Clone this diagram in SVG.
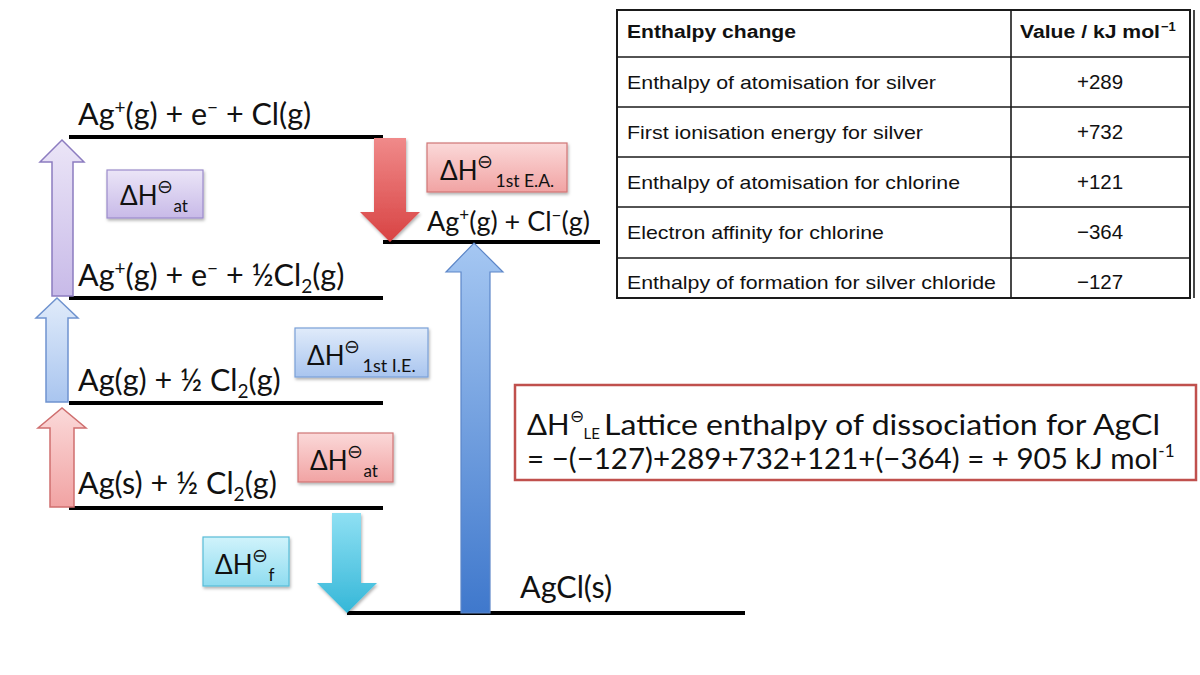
<svg xmlns="http://www.w3.org/2000/svg" width="1200" height="675" viewBox="0 0 1200 675">
<style>
.lvl{stroke:#000;stroke-width:4;fill:none}
.lt{font-family:Lato,"Open Sans",sans-serif;font-size:30.5px;fill:#111}
.sup{font-size:19px}
.bt{font-family:Lato,"Open Sans",sans-serif;font-size:26px;fill:#111}
.rt{font-family:Lato,"Open Sans",sans-serif;font-size:29.5px;fill:#111}
.tb{font-family:"Liberation Sans",Arial,sans-serif;font-size:19px;fill:#111}
.tv{font-family:"Liberation Sans",Arial,sans-serif;font-size:20.5px;fill:#111}
.th{font-family:"Liberation Sans",Arial,sans-serif;font-size:18px;font-weight:bold;fill:#111}
.grid{stroke:#1a1a1a;stroke-width:1.6;fill:none}
</style>
<defs>
<linearGradient id="gLav" x1="0" y1="0" x2="0" y2="1"><stop offset="0" stop-color="#ebe5f7"/><stop offset="1" stop-color="#c8bae8"/></linearGradient>
<linearGradient id="gPink" x1="0" y1="0" x2="0" y2="1"><stop offset="0" stop-color="#fbd9d9"/><stop offset="1" stop-color="#f1a3a3"/></linearGradient>
<linearGradient id="gBlue" x1="0" y1="0" x2="0" y2="1"><stop offset="0" stop-color="#e0ebfa"/><stop offset="1" stop-color="#a9c5ef"/></linearGradient>
<linearGradient id="gCyan" x1="0" y1="0" x2="0" y2="1"><stop offset="0" stop-color="#d0f3fb"/><stop offset="1" stop-color="#8fdcf0"/></linearGradient>
<linearGradient id="gRed" x1="0" y1="0" x2="0" y2="1"><stop offset="0" stop-color="#f08a8a"/><stop offset="1" stop-color="#d84343"/></linearGradient>
<linearGradient id="gCyanA" x1="0" y1="0" x2="0" y2="1"><stop offset="0" stop-color="#8fe0f3"/><stop offset="1" stop-color="#35b7d8"/></linearGradient>
<linearGradient id="gBigBlue" x1="0" y1="0" x2="0" y2="1"><stop offset="0" stop-color="#a5c7f2"/><stop offset="1" stop-color="#3f78cc"/></linearGradient>
<filter id="sh" x="-10%" y="-10%" width="130%" height="140%"><feDropShadow dx="1" dy="2" stdDeviation="1.5" flood-color="#000" flood-opacity="0.3"/></filter>
</defs>

<g id="levels">
<line class="lvl" x1="69" y1="137" x2="383" y2="137"/>
<line class="lvl" x1="69" y1="298" x2="383" y2="298"/>
<line class="lvl" x1="69" y1="403" x2="383" y2="403"/>
<line class="lvl" x1="69" y1="508" x2="383" y2="508"/>
<line class="lvl" x1="383" y1="242" x2="600" y2="242"/>
<line class="lvl" x1="347" y1="613" x2="745" y2="613"/>
</g>

<g id="level-texts">
<text id="t1" class="lt" x="78" y="125">Ag<tspan class="sup" dy="-11">+</tspan><tspan dy="11">(g) + e</tspan><tspan class="sup" dy="-11">−</tspan><tspan dy="11"> + Cl(g)</tspan></text>
<text id="t2" class="lt" x="78" y="286">Ag<tspan class="sup" dy="-11">+</tspan><tspan dy="11">(g) + e</tspan><tspan class="sup" dy="-11">−</tspan><tspan dy="11"> + ½Cl</tspan><tspan class="sup" dy="7">2</tspan><tspan dy="-7">(g)</tspan></text>
<text id="t3" class="lt" x="78" y="391">Ag(g) + ½ Cl<tspan class="sup" dy="7">2</tspan><tspan dy="-7">(g)</tspan></text>
<text id="t4" class="lt" x="78" y="494">Ag(s) + ½ Cl<tspan class="sup" dy="7">2</tspan><tspan dy="-7">(g)</tspan></text>
<text id="t5" class="lt" x="427" y="231" style="font-size:27px">Ag<tspan class="sup" dy="-10" style="font-size:17px">+</tspan><tspan dy="10">(g) + Cl</tspan><tspan class="sup" dy="-10" style="font-size:17px">−</tspan><tspan dy="10">(g)</tspan></text>
<text id="t6" class="lt" x="520" y="598">AgCl(s)</text>
</g>

<g id="connectors">
<polygon id="a-at-cl" points="52,296 52,162 40,162 62,140 84,162 73,162 73,296" fill="url(#gLav)" stroke="#8c7cc0" stroke-width="1.5"/>
<polygon id="a-ie" points="46,402 46,318 36,318 57,298 78,318 68,318 68,402" fill="url(#gBlue)" stroke="#6f93cf" stroke-width="1.5"/>
<polygon id="a-at-ag" points="50,507 50,428 38,428 62,408 86,428 74,428 74,507" fill="url(#gPink)" stroke="#cf6f6f" stroke-width="1.5"/>
<polygon id="a-ea" points="374,138 406,138 406,212 420,212 390,242 360,212 374,212" fill="url(#gRed)" filter="url(#sh)"/>
<polygon id="a-f" points="332,513 361,513 361,583 377,583 347,613 317,583 332,583" fill="url(#gCyanA)" filter="url(#sh)"/>
<polygon id="a-le" points="461,613 461,272 446,272 474,243 503,272 490,272 490,613" fill="url(#gBigBlue)" stroke="#5c86c8" stroke-width="1.2"/>
</g>

<g id="lbl-at-cl">
<rect x="107" y="170" width="96" height="48" fill="url(#gLav)" stroke="#9b8bcb" stroke-width="1.2" filter="url(#sh)"/>
<text class="bt" x="120" y="205">ΔH<tspan class="sup" dy="-12">⊖</tspan><tspan font-size="17" dy="19">at</tspan></text>
</g>
<g id="lbl-ea">
<rect x="427" y="143" width="140" height="49" fill="url(#gPink)" stroke="#d07676" stroke-width="1.2" filter="url(#sh)"/>
<text class="bt" x="440" y="180">ΔH<tspan class="sup" dy="-12">⊖</tspan><tspan font-size="17.5" dy="19" dx="2">1st E.A.</tspan></text>
</g>
<g id="lbl-ie">
<rect x="295" y="328" width="133" height="49" fill="url(#gBlue)" stroke="#7aa0d8" stroke-width="1.2" filter="url(#sh)"/>
<text class="bt" x="307" y="365">ΔH<tspan class="sup" dy="-12">⊖</tspan><tspan font-size="18" dy="19" dx="2">1st I.E.</tspan></text>
</g>
<g id="lbl-at-ag">
<rect x="298" y="433" width="95" height="49" fill="url(#gPink)" stroke="#d07676" stroke-width="1.2" filter="url(#sh)"/>
<text class="bt" x="310" y="470">ΔH<tspan class="sup" dy="-12">⊖</tspan><tspan font-size="17" dy="19">at</tspan></text>
</g>
<g id="lbl-f">
<rect x="203" y="537" width="86" height="49" fill="url(#gCyan)" stroke="#58bcd8" stroke-width="1.2" filter="url(#sh)"/>
<text class="bt" x="215" y="574">ΔH<tspan class="sup" dy="-12">⊖</tspan><tspan font-size="17" dy="19">f</tspan></text>
</g>

<g id="table">
<rect x="617" y="10" width="573" height="288" fill="#fff" stroke="#1a1a1a" stroke-width="2"/>
<line class="grid" x1="1194" y1="10" x2="1194" y2="298" stroke-width="2"/>
<line class="grid" x1="1011" y1="10" x2="1011" y2="298"/>
<line class="grid" x1="617" y1="57" x2="1190" y2="57"/>
<line class="grid" x1="617" y1="107" x2="1190" y2="107"/>
<line class="grid" x1="617" y1="157" x2="1190" y2="157"/>
<line class="grid" x1="617" y1="207" x2="1190" y2="207"/>
<line class="grid" x1="617" y1="258" x2="1190" y2="258"/>
<text class="th" x="627" y="38" textLength="169" lengthAdjust="spacingAndGlyphs">Enthalpy change</text>
<text class="th" x="1020" y="38" textLength="140" lengthAdjust="spacingAndGlyphs">Value / kJ mol</text>
<text class="th" x="1161" y="31" style="font-size:13px">−1</text>
<text class="tb" x="627" y="89" textLength="309" lengthAdjust="spacingAndGlyphs">Enthalpy of atomisation for silver</text>
<text class="tb" x="627" y="139" textLength="296" lengthAdjust="spacingAndGlyphs">First ionisation energy for silver</text>
<text class="tb" x="627" y="189" textLength="333" lengthAdjust="spacingAndGlyphs">Enthalpy of atomisation for chlorine</text>
<text class="tb" x="627" y="239" textLength="257" lengthAdjust="spacingAndGlyphs">Electron affinity for chlorine</text>
<text class="tb" x="627" y="289" textLength="369" lengthAdjust="spacingAndGlyphs">Enthalpy of formation for silver chloride</text>
<g text-anchor="middle">
<text class="tv" x="1100" y="89">+289</text>
<text class="tv" x="1100" y="139">+732</text>
<text class="tv" x="1100" y="189">+121</text>
<text class="tv" x="1100" y="239">−364</text>
<text class="tv" x="1100" y="289">−127</text>
</g>
</g>

<g id="result">
<rect x="515" y="385" width="681" height="95" fill="#fff" stroke="#c0504d" stroke-width="2.5"/>
<text class="rt" x="527" y="435">ΔH<tspan style="font-size:17px" dy="-13">⊖</tspan><tspan font-size="15" dy="17">LE</tspan></text>
<text class="rt" x="604" y="435" textLength="556" lengthAdjust="spacingAndGlyphs">Lattice enthalpy of dissociation for AgCl</text>
<text class="rt" x="527" y="469">= −(−127)+289+732+121+(−364) = + 905 kJ mol<tspan font-size="17" dy="-12">-1</tspan></text>
</g>
</svg>
